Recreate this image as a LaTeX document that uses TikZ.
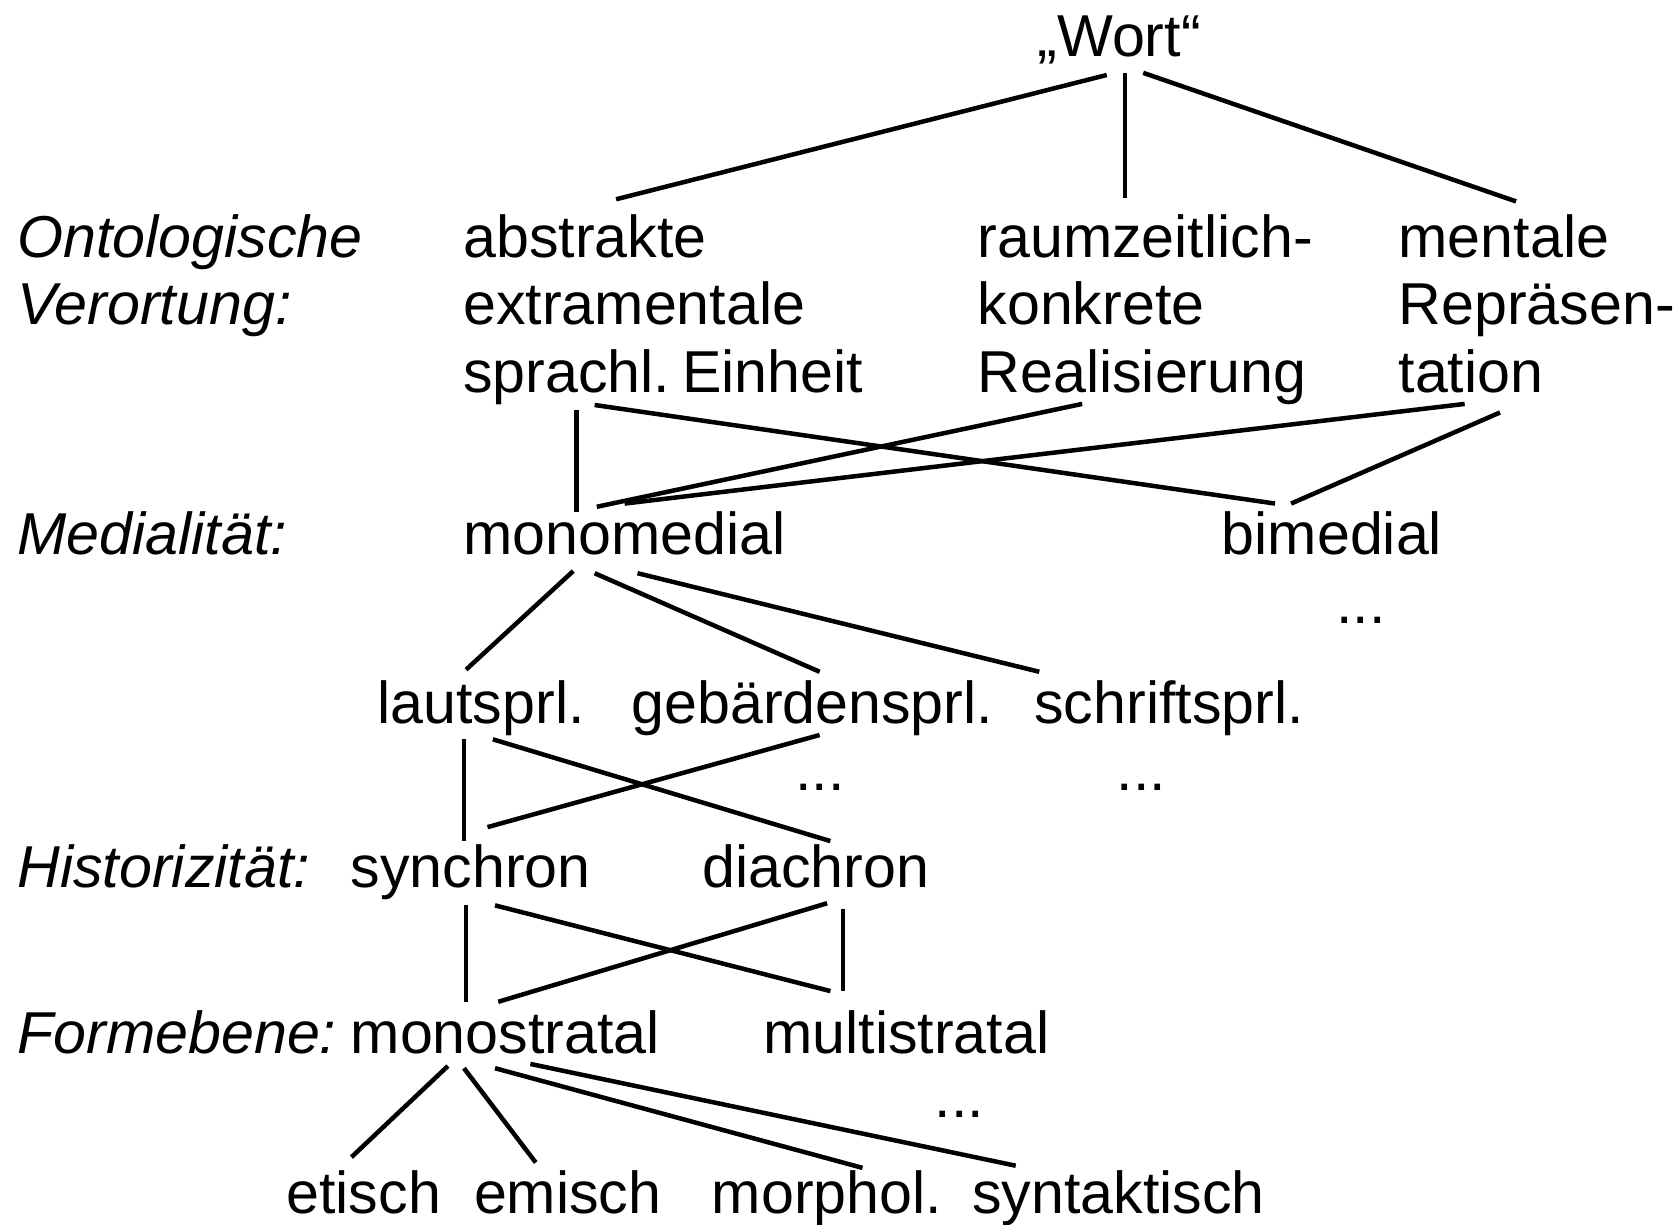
\documentclass[tikz,border=0pt]{standalone}
\usepackage{fontspec}
\setmainfont{Liberation Sans}
\begin{document}
\begin{tikzpicture}[x=0.5pt,y=-0.5pt,
  txt/.style={anchor=base west,inner sep=0pt,font=\fontsize{27.6pt}{31.5pt}\selectfont},
  lbl/.style={anchor=base west,inner sep=0pt,font=\fontsize{27.6pt}{31.5pt}\selectfont\itshape},
  edge/.style={line width=2.1pt}]
\useasboundingbox (0,0) rectangle (1568,1143);
% texts
\node[txt] (wort) at (968,53) {„Wort“};
\node[lbl] (ont1) at (16,240) {Ontologische};
\node[lbl] (ont2) at (16,303) {Verortung:};
\node[txt] (abs1) at (432,240) {abstrakte};
\node[txt] (abs2) at (432,303) {extramentale};
\node[txt] (abs3) at (432,366) {sprachl.\kern-0.08em\ Einheit};
\node[txt] (rz1) at (912,240) {raumzeitlich-};
\node[txt] (rz2) at (912,303) {konkrete};
\node[txt] (rz3) at (912,366) {Realisierung};
\node[txt] (men1) at (1305,240) {mentale};
\node[txt] (men2) at (1305,303) {Repräsen-};
\node[txt] (men3) at (1305,366) {tation};
\node[lbl] (med) at (16,518) {Medialität:};
\node[txt] (mono) at (432,518) {monomedial};
\node[txt] (bi) at (1140,518) {bimedial};
\node[txt] (dotsbi) at (1247,582) {...};
\node[txt] (laut) at (352,675) {lautsprl.};
\node[txt] (geb) at (589,675) {gebärdensprl.};
\node[txt] (schr) at (965,675) {schriftsprl.};
\node[txt] (dotsgeb) at (742,738) {...};
\node[txt] (dotsschr) at (1042,738) {...};
\node[lbl] (hist) at (16,828) {Historizität:};
\node[txt] (syn) at (327,828) {synchron};
\node[txt] (dia) at (655,828) {diachron};
\node[lbl] (form) at (16,983) {Formebene:};
\node[txt] (monos) at (327,983) {monostratal};
\node[txt] (multi) at (712,983) {multistratal};
\node[txt] (dotsf) at (872,1043) {...};
\node[txt] (et) at (267,1133) {etisch};
\node[txt] (em) at (442,1133) {emisch};
\node[txt] (mor) at (664,1133) {morphol.};
\node[txt] (syt) at (907,1133) {syntaktisch};
% connector end points
\coordinate (wortA) at (1033,70);  \coordinate (absW) at (575,186);
\coordinate (wortB) at (1050,68);  \coordinate (rzW) at (1050,185);
\coordinate (wortC) at (1067,68);  \coordinate (menW) at (1415,188);
\coordinate (absM) at (538,383);   \coordinate (monoA) at (538,478);
\coordinate (absB) at (555,378);   \coordinate (biA) at (1190,470);
\coordinate (rzM) at (1010,377);   \coordinate (monoR) at (557,473);
\coordinate (menM) at (1367,377);  \coordinate (monoM) at (583,470);
\coordinate (menB) at (1400,385);  \coordinate (biM) at (1205,470);
\coordinate (monoL) at (535,533);  \coordinate (lautM) at (435,625);
\coordinate (monoG) at (555,535);  \coordinate (gebM) at (765,627);
\coordinate (monoS) at (595,535);  \coordinate (schrM) at (970,627);
\coordinate (lautS) at (433,690);  \coordinate (synL) at (433,785);
\coordinate (lautD) at (460,690);  \coordinate (diaL) at (775,785);
\coordinate (gebS) at (765,686);   \coordinate (synG) at (455,772);
\coordinate (synMo) at (435,845);  \coordinate (monosS) at (435,935);
\coordinate (synMu) at (462,845);  \coordinate (multiS) at (775,925);
\coordinate (diaMo) at (772,843);  \coordinate (monosD) at (465,935);
\coordinate (diaMu) at (787,848);  \coordinate (multiD) at (787,925);
\coordinate (monosE) at (418,995); \coordinate (etM) at (328,1080);
\coordinate (monosEm) at (433,997);\coordinate (emM) at (500,1085);
\coordinate (monosMo) at (462,997);\coordinate (morM) at (805,1090);
\coordinate (monosSy) at (495,993);\coordinate (sytM) at (948,1088);
% connectors
\draw[edge] (wortA) -- (absW);
\draw[edge] (wortB) -- (rzW);
\draw[edge] (wortC) -- (menW);
\draw[edge] (absM) -- (monoA);
\draw[edge] (absB) -- (biA);
\draw[edge] (rzM) -- (monoR);
\draw[edge] (menM) -- (monoM);
\draw[edge] (menB) -- (biM);
\draw[edge] (monoL) -- (lautM);
\draw[edge] (monoG) -- (gebM);
\draw[edge] (monoS) -- (schrM);
\draw[edge] (lautS) -- (synL);
\draw[edge] (lautD) -- (diaL);
\draw[edge] (gebS) -- (synG);
\draw[edge] (synMo) -- (monosS);
\draw[edge] (synMu) -- (multiS);
\draw[edge] (diaMo) -- (monosD);
\draw[edge] (diaMu) -- (multiD);
\draw[edge] (monosE) -- (etM);
\draw[edge] (monosEm) -- (emM);
\draw[edge] (monosMo) -- (morM);
\draw[edge] (monosSy) -- (sytM);
\end{tikzpicture}
\end{document}
